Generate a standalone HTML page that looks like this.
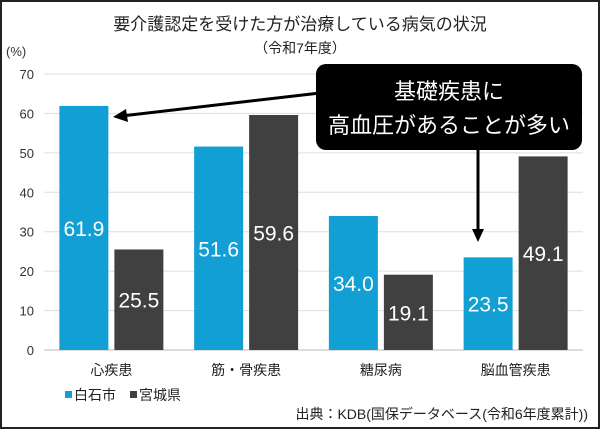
<!DOCTYPE html>
<html><head><meta charset="utf-8">
<style>
html,body{margin:0;padding:0;background:#fff;}
svg{display:block;font-family:"Liberation Sans","Noto Sans CJK JP",sans-serif;}
</style></head>
<body>
<svg id="chart" width="600" height="429" viewBox="0 0 600 429">
<rect x="1" y="1" width="598" height="427" fill="#fff" stroke="#222" stroke-width="2"/>
<text x="300" y="30" text-anchor="middle" font-size="17" fill="#222">要介護認定を受けた方が治療している病気の状況</text>
<text x="300" y="53" text-anchor="middle" font-size="14" fill="#222">（令和7年度）</text>
<text x="6" y="56" font-size="13" fill="#333">(%)</text>
<g id="grid"></g>
<g id="bars"></g>
<g id="labels"></g>
<g>
<rect x="65" y="391" width="7" height="7" fill="#129fd4"/>
<text x="74" y="400" font-size="14" fill="#222">白石市</text>
<rect x="130" y="391" width="7" height="7" fill="#404040"/>
<text x="139" y="400" font-size="14" fill="#222">宮城県</text>
</g>
<text x="588" y="419" text-anchor="end" font-size="14" fill="#222">出典：KDB(国保データベース(令和6年度累計))</text>
<g>
<line x1="320" y1="93" x2="122" y2="116" stroke="#000" stroke-width="3"/>
<polygon points="113,117 126,109 128,122" fill="#000"/>
<line x1="478" y1="148" x2="478" y2="232" stroke="#000" stroke-width="3"/>
<polygon points="478,242 472,229 484,229" fill="#000"/>
<rect x="316" y="64" width="266" height="86" rx="10" fill="#000"/>
<text x="449" y="99" text-anchor="middle" font-size="22" fill="#fff">基礎疾患に</text>
<text x="449" y="133" text-anchor="middle" font-size="22" fill="#fff">高血圧があることが多い</text>
</g>
</svg>
<script>
const categories = ["心疾患","筋・骨疾患","糖尿病","脳血管疾患"];
const shiroishi = [61.9,51.6,34.0,23.5];
const miyagi = [25.5,59.6,19.1,49.1];
const yTicks = [0,10,20,30,40,50,60,70];
const NS="http://www.w3.org/2000/svg";
const y0=350, y70=74, xL=44, xR=583;
function y(v){return y0-(v/70)*(y0-y70);}
function xc(i){return xL+(xR-xL)*(i+0.5)/categories.length;}
function mk(tag,attrs,parent){const e=document.createElementNS(NS,tag);for(const k in attrs)e.setAttribute(k,attrs[k]);parent.appendChild(e);return e;}
const grid=document.getElementById('grid'),bars=document.getElementById('bars'),labels=document.getElementById('labels');
yTicks.forEach(t=>{
  const l=mk('line',{x1:xL,x2:xR,y1:y(t),y2:y(t),stroke:t===0?'#bbb':'#ddd','stroke-width':1},grid);
  
  
  const tx=mk('text',{x:34,y:y(t)+5,'text-anchor':'end','font-size':13,fill:'#333'},grid);
  tx.textContent=t;
  
  
});
function bar(i,v,off,color,name){
  const top=y(v);
  const r=mk('rect',{x:xc(i)+off,y:top,width:49,height:y0-top,fill:color},bars);
  
  
  const t=mk('text',{x:xc(i)+off+24.5,y:(top+y0)/2+8,'text-anchor':'middle','font-size':21,fill:'#fff'},labels);
  t.textContent=v.toFixed(1);
  
  
}
categories.forEach((c,i)=>{
  bar(i,shiroishi[i],-52,'#129fd4','shiroishi');
  bar(i,miyagi[i],3,'#404040','miyagi');
  const t=mk('text',{x:xc(i),y:375,'text-anchor':'middle','font-size':14,fill:'#222'},labels);
  t.textContent=c;
  
  
});
</script>
</body></html>
